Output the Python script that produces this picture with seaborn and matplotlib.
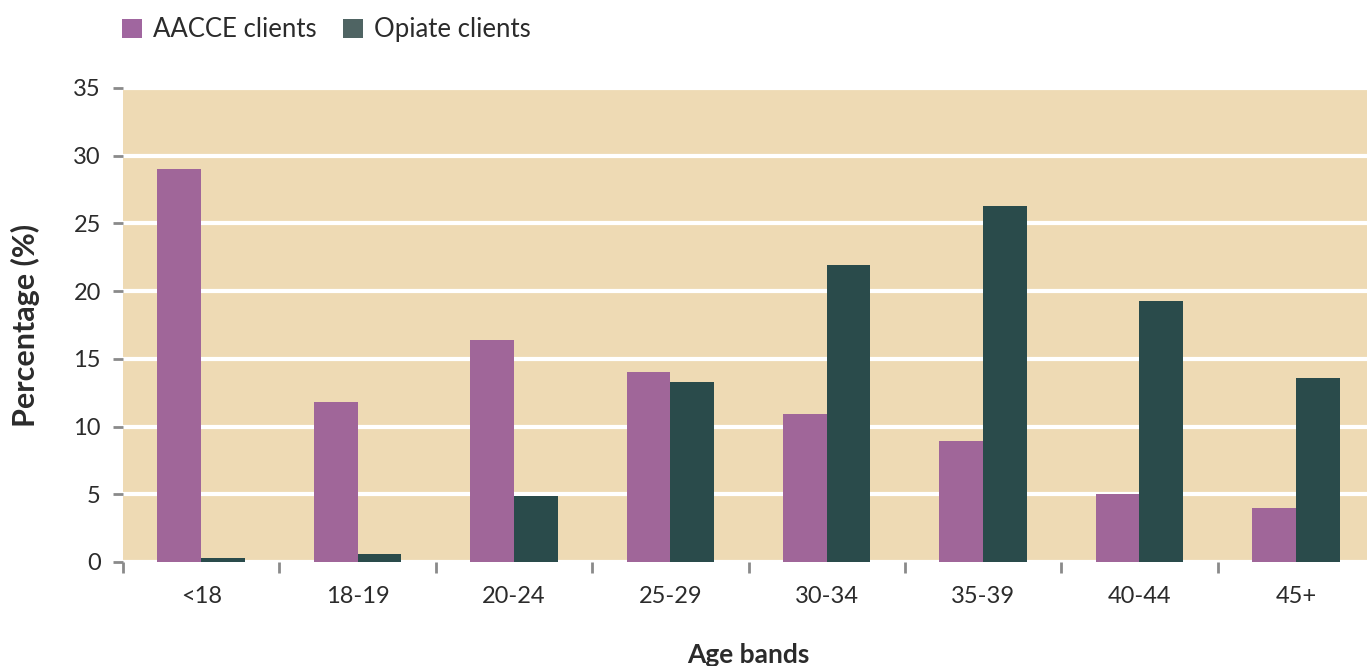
import matplotlib
matplotlib.use("Agg")
import matplotlib.pyplot as plt
from matplotlib.ticker import FixedLocator, NullFormatter, FixedFormatter
from matplotlib.patches import Patch
import seaborn as sns
import pandas as pd

age_bands = ["<18", "18-19", "20-24", "25-29", "30-34", "35-39", "40-44", "45+"]
aacce_clients = [29.0, 11.8, 16.4, 14.0, 10.9, 8.9, 5.0, 4.0]
opiate_clients = [0.3, 0.6, 4.9, 13.3, 21.9, 26.3, 19.3, 13.6]
series_names = ["AACCE clients", "Opiate clients"]
y_ticks = [0, 5, 10, 15, 20, 25, 30, 35]

bar_colors = {"AACCE clients": "#A06699", "Opiate clients": "#2A4B4B"}
legend_colors = {"AACCE clients": "#A0669F", "Opiate clients": "#4F6463"}
panel_bg = "#EEDAB4"
text_color = "#2B2B2B"
tick_color = "#8A8A8A"

df = pd.DataFrame({
    "Age band": age_bands * 2,
    "Percentage": aacce_clients + opiate_clients,
    "Series": [series_names[0]] * len(age_bands) + [series_names[1]] * len(age_bands),
})

sns.set_theme(style="white")
plt.rcParams["font.family"] = ["Lato", "DejaVu Sans"]

W, H = 1367, 666
fig = plt.figure(figsize=(W / 100, H / 100), dpi=100)
ax = fig.add_axes([123 / W, (H - 562) / H, (1374 - 123) / W, (562 - 88) / H])
ax.set_facecolor(panel_bg)

sns.barplot(data=df, x="Age band", y="Percentage", hue="Series",
            order=age_bands, hue_order=series_names, palette=bar_colors,
            width=0.56, saturation=1, dodge=True, ax=ax, legend=False,
            linewidth=0, zorder=3)

ax.set_xlim(-0.5, len(age_bands) - 0.5)
ax.set_ylim(0, 35)
ax.set_yticks(y_ticks)
ax.set_yticklabels([str(v) for v in y_ticks])
ax.grid(axis="y", color="white", linewidth=3, zorder=1)
ax.grid(axis="x", visible=False)
ax.set_axisbelow(True)

# category boundaries carry the tick marks, centres carry the labels
ax.xaxis.set_major_locator(FixedLocator([i - 0.5 for i in range(len(age_bands) + 1)]))
ax.xaxis.set_major_formatter(NullFormatter())
ax.xaxis.set_minor_locator(FixedLocator(list(range(len(age_bands)))))
ax.xaxis.set_minor_formatter(FixedFormatter(age_bands))
ax.tick_params(axis="x", which="major", bottom=True, length=8, width=2, color=tick_color)
ax.tick_params(axis="x", which="minor", bottom=True, length=0, pad=17,
               labelsize=17, labelcolor=text_color)
ax.tick_params(axis="y", which="major", left=True, length=7, width=2, color=tick_color,
               pad=9, labelsize=17, labelcolor=text_color)

for s in ax.spines.values():
    s.set_visible(False)

ax.set_xlabel("Age bands", fontsize=19, fontweight="bold", color=text_color)
ax.xaxis.set_label_coords(0.5, -0.17)
ax.set_ylabel("Percentage (%)", fontsize=22, fontweight="bold", color=text_color)
ax.yaxis.set_label_coords(-0.066, 0.5)

handles = [Patch(facecolor=legend_colors[n], edgecolor="none") for n in series_names]
fig.legend(handles, series_names, loc="upper left", bbox_to_anchor=(112 / W, 1 - 7 / H),
           ncol=2, frameon=False, fontsize=18.5, handlelength=0.78, handleheight=0.78,
           handletextpad=0.43, columnspacing=1.0, labelcolor=text_color, borderaxespad=0)

fig.savefig("out.png", dpi=100)
